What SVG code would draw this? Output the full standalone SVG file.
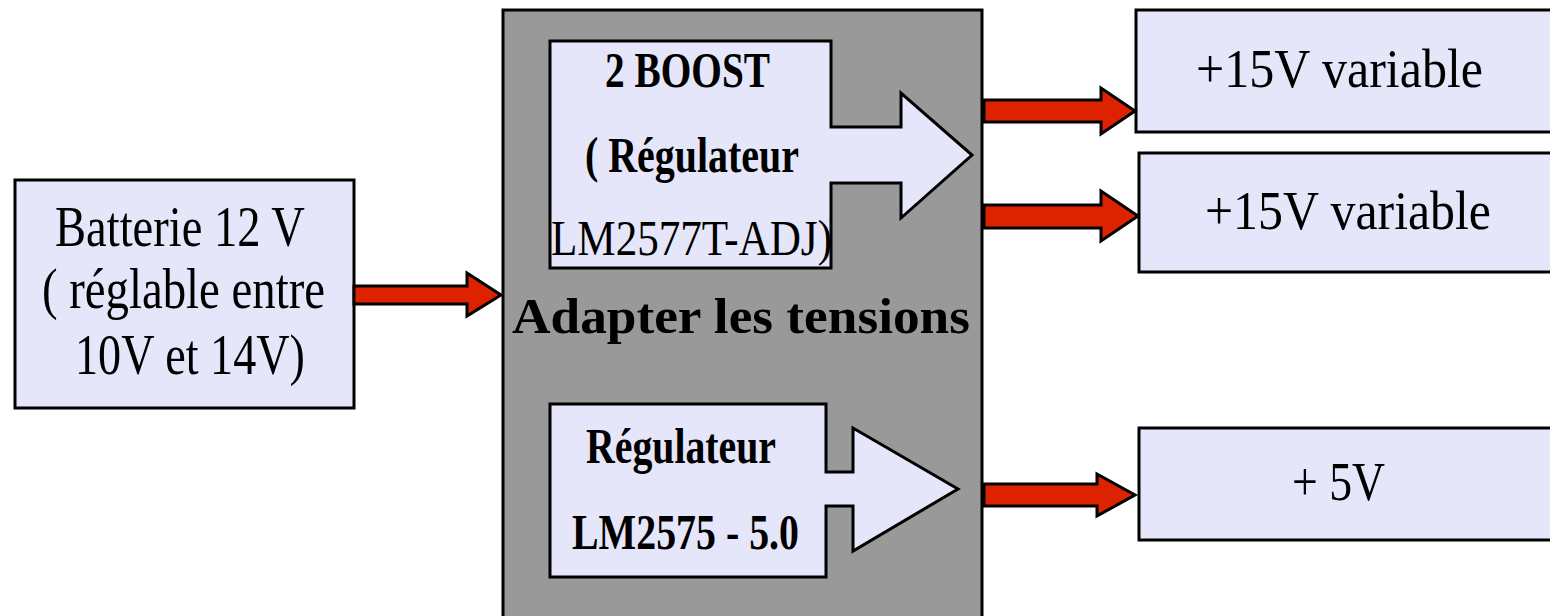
<svg xmlns="http://www.w3.org/2000/svg" width="1550" height="616" viewBox="0 0 1550 616">
<style>
.box{fill:#E6E6FA;stroke:#000;stroke-width:3}
.gray{fill:#999999;stroke:#000;stroke-width:3}
.red{fill:#DD2200;stroke:#000;stroke-width:3;stroke-linejoin:miter}
.t{font-family:"Liberation Serif","Times New Roman",serif;fill:#000}
.b{font-weight:bold}
.s50{font-size:50px}
.s56{font-size:56px}
.s54{font-size:54px}
</style>
<rect width="1550" height="616" fill="#fff"/>
<g id="battery">
<rect class="box" x="15" y="180" width="339" height="228"/>
<text class="t s56" x="55" y="246" textLength="250" lengthAdjust="spacingAndGlyphs">Batterie 12 V</text>
<text class="t s56" x="42" y="308" textLength="283" lengthAdjust="spacingAndGlyphs">( réglable entre</text>
<text class="t s56" x="75" y="374" textLength="230" lengthAdjust="spacingAndGlyphs">10V et 14V)</text>
</g>
<g id="adapter">
<rect class="gray" x="503" y="10" width="479" height="620"/>
<text class="t b s50" x="512" y="333" textLength="458" lengthAdjust="spacingAndGlyphs">Adapter les tensions</text>
</g>
<g id="boost">
<polygon class="box" points="550,41 831,41 831,127 901,127 901,93 972,155 901,218 901,183 831,183 831,268 550,268"/>
<text class="t b s50" x="605" y="87" textLength="165" lengthAdjust="spacingAndGlyphs">2 BOOST</text>
<text class="t b s50" x="585" y="172" textLength="214" lengthAdjust="spacingAndGlyphs">( Régulateur</text>
<text class="t s50" x="551" y="255" textLength="281" lengthAdjust="spacingAndGlyphs">LM2577T-ADJ)</text>
</g>
<g id="regulator5">
<polygon class="box" points="550,404 826,404 826,472 853,472 853,428 958,489 853,551 853,506 826,506 826,577 550,577"/>
<text class="t b s50" x="586" y="463" textLength="190" lengthAdjust="spacingAndGlyphs">Régulateur</text>
<text class="t b s50" x="572" y="549" textLength="227" lengthAdjust="spacingAndGlyphs">LM2575 - 5.0</text>
</g>
<g id="out1">
<rect class="box" x="1136" y="10" width="430" height="122"/>
<text class="t s54" x="1196" y="87" textLength="287" lengthAdjust="spacingAndGlyphs">+15V variable</text>
</g>
<g id="out2">
<rect class="box" x="1139" y="153" width="430" height="119"/>
<text class="t s54" x="1205" y="229" textLength="286" lengthAdjust="spacingAndGlyphs">+15V variable</text>
</g>
<g id="out3">
<rect class="box" x="1139" y="428" width="430" height="112"/>
<text class="t s54" x="1292" y="500" textLength="93" lengthAdjust="spacingAndGlyphs">+ 5V</text>
</g>
<g id="connectors">
<polygon class="red" points="354,286 467,286 467,273 501,295 467,316 467,304 354,304"/>
<polygon class="red" points="984,100 1101,100 1101,88 1135,111 1101,134 1101,122 984,122"/>
<polygon class="red" points="984,205 1101,205 1101,191 1138,216 1101,241 1101,228 984,228"/>
<polygon class="red" points="984,484 1097,484 1097,474 1135,495 1097,516 1097,506 984,506"/>
</g>
</svg>
